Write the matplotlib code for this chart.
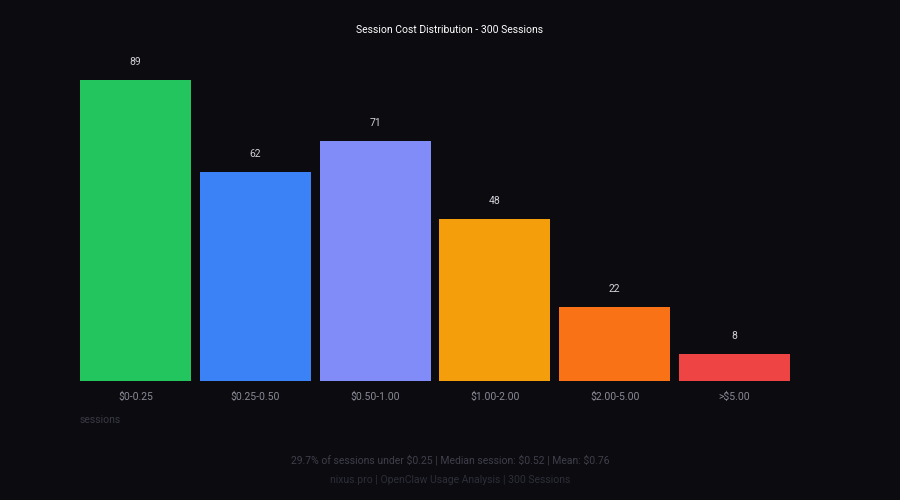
import matplotlib
matplotlib.use("Agg")
import matplotlib.pyplot as plt

categories = ["$0-0.25", "$0.25-0.50", "$0.50-1.00", "$1.00-2.00", "$2.00-5.00", ">$5.00"]
values = [89, 62, 71, 48, 22, 8]
colors = ["#22c55e", "#3b82f6", "#818cf8", "#f59e0b", "#f97316", "#ef4444"]
title = "Session Cost Distribution - 300 Sessions"
ylabel = "sessions"
footer1 = "29.7% of sessions under $0.25 | Median session: $0.52 | Mean: $0.76"
footer2 = "nixus.pro | OpenClaw Usage Analysis | 300 Sessions"

plt.rcParams['font.family'] = ['Roboto', 'DejaVu Sans']
bg = "#0b0b10"
fig = plt.figure(figsize=(9, 5), dpi=100, facecolor=bg)
ax = fig.add_axes([80/900, 1-381/500, 710/900, 331/500], facecolor=bg)
x = list(range(len(categories)))
ax.bar(x, values, width=0.925, color=colors)
for xi, v in zip(x, values):
    ax.text(xi, v + 5.3, str(v), ha="center", va="center", color="#cfcfd6", fontsize=7.5)
ax.set_xlim(-0.4625, len(categories) - 0.5375)
ax.set_ylim(0, 98)
ax.set_xticks(x)
ax.set_xticklabels(categories, color="#8a8a96", fontsize=7.5)
ax.tick_params(axis="x", length=0, pad=8)
ax.set_yticks([])
for s in ax.spines.values():
    s.set_visible(False)
fig.text(450/900, 1-30/500, title, ha="center", va="center", color="#ffffff", fontsize=7.5)
fig.text(80/900, 1-420/500, ylabel, ha="left", va="center", color="#3a3a46", fontsize=7.5)
fig.text(450/900, 1-460/500, footer1, ha="center", va="center", color="#3f3f4c", fontsize=7.5)
fig.text(450/900, 1-480/500, footer2, ha="center", va="center", color="#2e2e3a", fontsize=7.5)
fig.savefig("out.png", facecolor=bg)
